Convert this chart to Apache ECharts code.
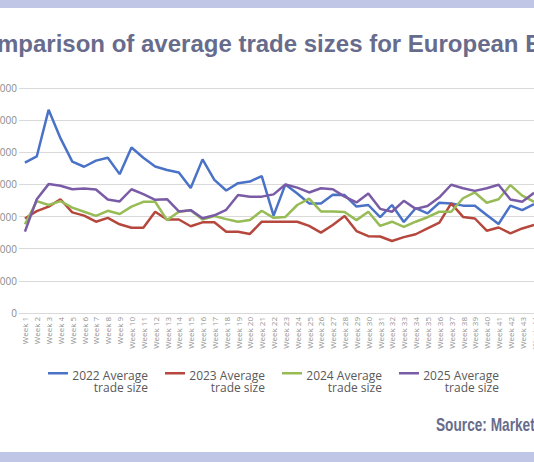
<!DOCTYPE html>
<html>
<head>
<meta charset="utf-8">
<script src="https://cdn.jsdelivr.net/npm/echarts@6/dist/echarts.min.js"></script>
<style>
  html, body { margin: 0; padding: 0; background: #fff; }
  #chart { width: 534px; height: 462px; }
</style>
</head>
<body>
<div id="chart"></div>
<script>
// Average trade sizes, weekly, by year
var weeks = [];
for (var i = 1; i <= 44; i++) weeks.push('Week ' + i);

var avg2022 = [468000, 487000, 632000, 544000, 471000, 455000, 474000, 483000, 432000, 515000,
  483000, 456000, 445000, 437000, 389000, 478000, 414000, 381000, 404000, 409000,
  426000, 303000, 400000, 372000, 341000, 341000, 368000, 367000, 331000, 336000,
  298000, 336000, 283000, 326000, 310000, 343000, 341000, 334000, 334000, 305000,
  277000, 334000, 320000, 339000];
var avg2023 = [294000, 317000, 331000, 354000, 313000, 303000, 284000, 296000, 276000, 265000,
  265000, 315000, 291000, 291000, 270000, 282000, 282000, 253000, 253000, 246000,
  284000, 284000, 284000, 284000, 271000, 250000, 274000, 302000, 255000, 239000,
  238000, 224000, 236000, 245000, 263000, 281000, 341000, 299000, 294000, 256000,
  266000, 248000, 263000, 274000];
var avg2024 = [276000, 348000, 336000, 348000, 328000, 315000, 302000, 318000, 308000, 331000,
  346000, 346000, 289000, 315000, 320000, 291000, 302000, 292000, 284000, 289000,
  318000, 296000, 299000, 336000, 356000, 316000, 316000, 314000, 289000, 315000,
  271000, 284000, 268000, 284000, 298000, 315000, 315000, 357000, 375000, 343000,
  354000, 398000, 365000, 346000];
var avg2025 = [253000, 354000, 401000, 396000, 385000, 387000, 384000, 353000, 347000, 385000,
  370000, 352000, 354000, 316000, 320000, 295000, 304000, 321000, 367000, 362000,
  362000, 369000, 400000, 390000, 375000, 388000, 385000, 362000, 344000, 372000,
  324000, 315000, 349000, 324000, 333000, 360000, 399000, 388000, 380000, 388000,
  399000, 353000, 346000, 374000];

var seriesNames = ['2022 Average trade size', '2023 Average trade size',
  '2024 Average trade size', '2025 Average trade size'];
var seriesData = [avg2022, avg2023, avg2024, avg2025];
var colors = ['#4a72c6', '#b5473c', '#97bb55', '#7a5ca6'];

var chart = echarts.init(document.getElementById('chart'), null, { renderer: 'svg' });

var band = '#c0c7e6';
var heading = '#676c8c';

chart.setOption({
  animation: false,
  backgroundColor: '#fff',
  title: {
    text: 'Comparison of average trade sizes for European ETFs',
    left: -40,
    top: 26,
    textStyle: { fontFamily: '"Liberation Sans", Arial, sans-serif', fontWeight: 'bold', fontSize: 24, color: heading }
  },
  graphic: [
    { type: 'rect', shape: { x: 0, y: 0, width: 534, height: 8 }, style: { fill: band } },
    { type: 'rect', shape: { x: 0, y: 452, width: 534, height: 10 }, style: { fill: band } },
    {
      type: 'text', x: 436, y: 416, scaleX: 0.76,
      style: { text: 'Source: MarketAxess', font: 'bold 18px "Liberation Sans", Arial, sans-serif', fill: heading, verticalAlign: 'top' }
    }
  ],
  legend: {
    left: 48,
    top: 369,
    padding: 0,
    itemGap: 17,
    itemWidth: 20,
    itemHeight: 18,
    icon: 'path://M0,0H20V2.5H0Z M0,18H0.01V18.01H0Z',
    formatter: function(name) {
      var cut = name.indexOf(' trade');
      return '{a|' + name.slice(0, cut) + '}\n{a|' + name.slice(cut + 1) + '}';
    },
    textStyle: {
      fontFamily: '"Open Sans", sans-serif',
      fontSize: 12,
      color: '#595959',
      rich: { a: { width: 75, align: 'right', lineHeight: 12, fontFamily: '"Open Sans", sans-serif', fontSize: 12, color: '#595959' } }
    },
    data: seriesNames
  },
  grid: { left: 19, right: -6, top: 88, bottom: 149, containLabel: false, outerBoundsMode: 'none' },
  xAxis: {
    type: 'category',
    data: weeks,
    boundaryGap: true,
    axisLine: { lineStyle: { color: '#d9d9d9' } },
    axisTick: { show: false },
    axisLabel: { rotate: 90, interval: 0, margin: 4, fontSize: 8, color: '#939393', fontFamily: '"Open Sans", sans-serif' }
  },
  yAxis: {
    type: 'value',
    min: 0,
    max: 700000,
    interval: 100000,
    axisLine: { show: false },
    axisTick: { show: false },
    axisLabel: {
      margin: 2, fontSize: 10, color: '#8a8a8a', fontFamily: '"Open Sans", sans-serif',
      formatter: function(v) { return String(v); }
    },
    splitLine: { lineStyle: { color: '#d9d9d9', width: 1 } }
  },
  series: seriesNames.map(function(name, k) {
    return {
      name: name,
      type: 'line',
      data: seriesData[k],
      symbol: 'none',
      itemStyle: { color: colors[k] },
      lineStyle: { color: colors[k], width: 2.5 }
    };
  })
});
window.addEventListener('resize', function() { chart.resize(); });
</script>
</body>
</html>
